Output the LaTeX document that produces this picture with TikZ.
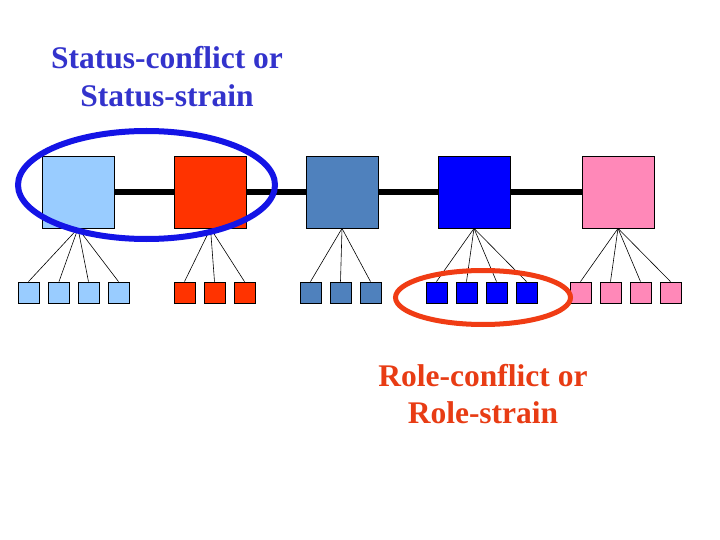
\documentclass[tikz,border=0pt]{standalone}
\usepackage{fontspec}
\setmainfont{Liberation Serif}
\usetikzlibrary{shapes.geometric}
\definecolor{cLB}{HTML}{99CCFF}
\definecolor{cRD}{HTML}{FF3300}
\definecolor{cSB}{HTML}{4F81BD}
\definecolor{cBL}{HTML}{0000FF}
\definecolor{cPK}{HTML}{FF88B8}
\definecolor{tBlue}{HTML}{3333CC}
\definecolor{tRed}{HTML}{E83C14}
\definecolor{ringBlue}{HTML}{1414E6}
\definecolor{ringRed}{HTML}{F03C14}
\tikzset{
  big/.style={draw=black, line width=0.8pt, minimum size=72pt, inner sep=0pt},
  small/.style={draw=black, line width=0.8pt, minimum size=21pt, inner sep=0pt},
  link/.style={line width=0.6pt},
  bar/.style={line width=6pt},
  lab/.style={font=\fontsize{31.5}{38}\selectfont\bfseries, anchor=base, inner sep=0pt},
  ring/.style={ellipse, line width=6pt, inner sep=0pt}
}
\begin{document}
\begin{tikzpicture}[x=1pt,y=-1pt]
\useasboundingbox (0,0) rectangle (720,540);
\fill[white] (0,0) rectangle (720,540);
% big squares
\node[big, fill=cLB] (b1) at (78,192) {};
\node[big, fill=cRD] (b2) at (210.5,192) {};
\node[big, fill=cSB] (b3) at (342,192) {};
\node[big, fill=cBL] (b4) at (474,192) {};
\node[big, fill=cPK] (b5) at (618,192) {};
\draw[bar] (b1.east) -- (b2.west);
\draw[bar] (b2.east) -- (b3.west);
\draw[bar] (b3.east) -- (b4.west);
\draw[bar] (b4.east) -- (b5.west);
% small squares
\foreach \i/\x in {1/28.5,2/59,3/88.5,4/118.5}
  \node[small, fill=cLB] (a\i) at (\x,292.5) {};
\foreach \i/\x in {1/184.5,2/214.5,3/244.5}
  \node[small, fill=cRD] (r\i) at (\x,292.5) {};
\foreach \i/\x in {1/310.5,2/340.5,3/370.5}
  \node[small, fill=cSB] (s\i) at (\x,292.5) {};
\foreach \i/\x in {1/436.5,2/466.5,3/496.5,4/526.5}
  \node[small, fill=cBL] (u\i) at (\x,292.5) {};
\foreach \i/\x in {1/580.5,2/610.5,3/640.5,4/670.5}
  \node[small, fill=cPK] (p\i) at (\x,292.5) {};
% links
\foreach \i in {1,...,4} \draw[link] (b1.south) -- (a\i.north);
\foreach \i in {1,...,3} \draw[link] (b2.south) -- (r\i.north);
\foreach \i in {1,...,3} \draw[link] (b3.south) -- (s\i.north);
\foreach \i in {1,...,4} \draw[link] (b4.south) -- (u\i.north);
\foreach \i in {1,...,4} \draw[link] (b5.south) -- (p\i.north);
% rings
\node[ring, draw=ringBlue, minimum width=257pt, minimum height=108pt] (ringA) at (146.5,185) {};
\node[ring, draw=ringRed, line width=5pt, minimum width=175pt, minimum height=54pt] (ringB) at (483,297.5) {};
% labels
\node[lab, text=tBlue] (t1) at (167,69) {Status-conflict or};
\node[lab, text=tBlue] (t2) at (167,107) {Status-strain};
\node[lab, text=tRed] (t3) at (483,386) {Role-conflict or};
\node[lab, text=tRed] (t4) at (483,423) {Role-strain};
\end{tikzpicture}
\end{document}
